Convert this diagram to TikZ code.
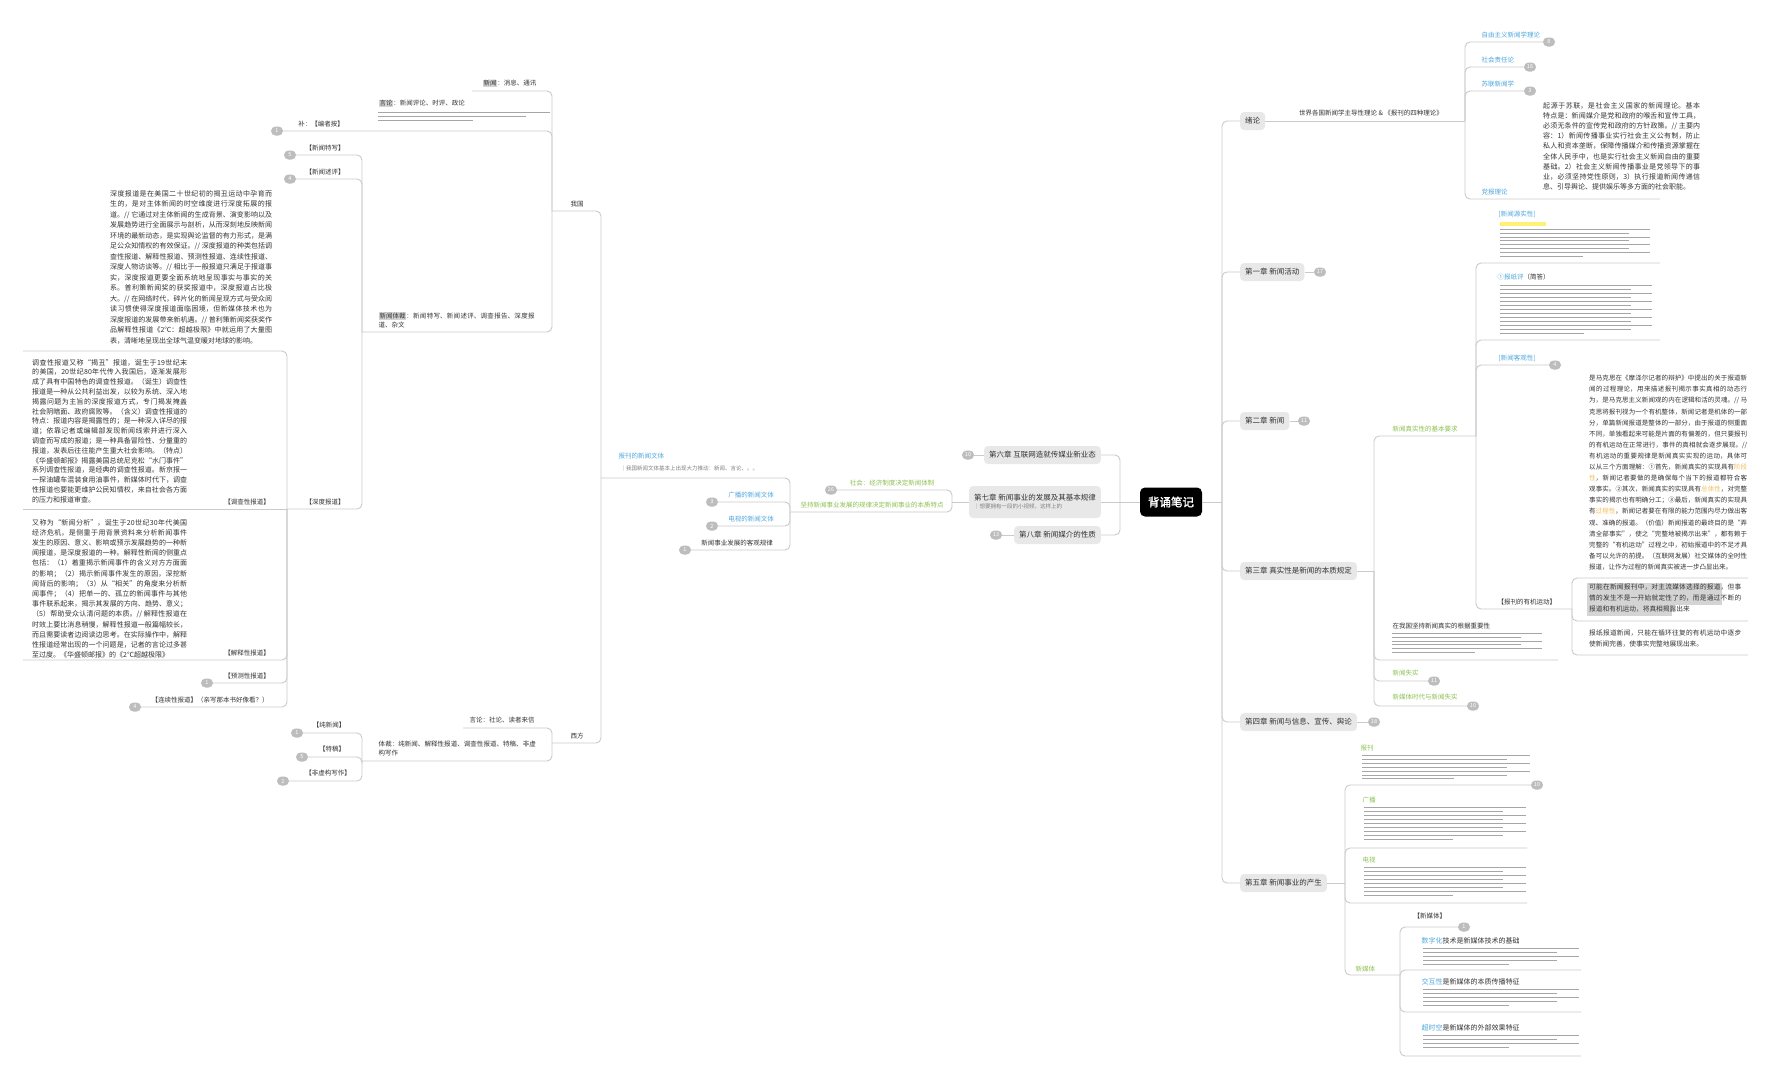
\documentclass[tikz,border=0pt]{standalone}
\usepackage{fontspec}
\setmainfont{Noto Sans CJK SC}[AutoFakeBold=2]
\XeTeXlinebreaklocale "zh"
\XeTeXlinebreakskip = 0pt plus 1pt
\usetikzlibrary{positioning}
\definecolor{ink}{HTML}{333333}
\definecolor{wire}{HTML}{CACACA}
\definecolor{chapfill}{HTML}{E8E8E8}
\definecolor{badgefill}{HTML}{BDBDBD}
\definecolor{leaf}{HTML}{8CC152}
\definecolor{sky}{HTML}{4EA6DC}
\definecolor{hl}{HTML}{D4D4D4}
\definecolor{fauxgray}{HTML}{A6A6A6}
\definecolor{marker}{HTML}{FFF176}
\definecolor{amber}{HTML}{F3BE5C}
\newcommand\hlt[1]{{\setlength{\fboxsep}{0.8pt}\colorbox{hl}{#1}}}
% rows of small grey text that cannot be read at this size
\newcommand\faux[5]{%
  \foreach \k in {1,...,#4}{
    \pgfmathsetmacro\fy{#2+(\k-1)*#5}
    \pgfmathsetmacro\fw{(\k==#4)?0.55*#3:(0.86+0.14*mod(\k,2))*#3}
    \fill[fauxgray] (#1,\fy) rectangle ++(\fw,0.9);
  }}
\tikzset{
  link/.style={draw=wire, line width=0.9pt, rounded corners=5pt},
  root/.style={fill=black, rounded corners=5pt, text=white, font=\fontsize{11.5}{13}\selectfont\bfseries, minimum width=62pt, minimum height=29pt},
  chap/.style={fill=chapfill, rounded corners=4pt, text=ink, font=\fontsize{7.5}{9}\selectfont, inner xsep=5pt, minimum height=18pt},
  badge/.style={fill=badgefill, rounded corners=4.5pt, text=white, font=\fontsize{5.5}{6}\selectfont, minimum width=12pt, minimum height=9pt, inner sep=0.5pt},
  lbl/.style={font=\fontsize{6.5}{8}\selectfont, text=ink, inner sep=0.5pt},
  greenlbl/.style={lbl, text=leaf},
  bluelbl/.style={lbl, text=sky},
  para/.style={font=\fontsize{7}{10.2}\selectfont, text=ink, align=justify, inner sep=0pt},
}
\begin{document}
\begin{tikzpicture}[x=1pt, y=-1pt]
\useasboundingbox (0,0) rectangle (1777,1080);
\fill[white] (0,0) rectangle (1777,1080);

% centre
\node[root] (root) at (1171,502) {背诵笔记};
\coordinate (rt) at (1222,502);
\coordinate (lt) at (1120,502);
\draw[link] (root.east) -- (rt);
\draw[link] (root.west) -- (lt);

% right chapters
\node[chap, anchor=west] (xulun) at (1240,121) {绪论};
\node[chap, anchor=west] (ch1) at (1240,272) {第一章 新闻活动};
\node[badge] (b1) at (1320,272) {17};
\node[chap, anchor=west] (ch2) at (1240,421) {第二章 新闻};
\node[badge] (b2) at (1304,421) {11};
\node[chap, anchor=west] (ch3) at (1240,571) {第三章 真实性是新闻的本质规定};
\node[chap, anchor=west] (ch4) at (1240,722) {第四章 新闻与信息、宣传、舆论};
\node[badge] (b4) at (1374,722) {18};
\node[chap, anchor=west] (ch5) at (1240,883) {第五章 新闻事业的产生};
\foreach \c in {xulun,ch1,ch2,ch3,ch4,ch5}
  \draw[link] (rt) |- (\c.west);
\draw[link] (ch1.east) -- (b1);
\draw[link] (ch2.east) -- (b2);
\draw[link] (ch4.east) -- (b4);

% 绪论
\coordinate (jx) at (1465,121);
\draw[link] (xulun.east) -- (jx);
\node[lbl] (xlt) at (1371,113) {世界各国新闻学主导性理论 \& 《报刊的四种理论》};
\node[badge] (xb1) at (1549,42) {8};
\node[badge] (xb2) at (1530,67) {16};
\node[badge] (xb3) at (1530,91) {3};
\coordinate (x4e) at (1660,199);
\draw[link] (jx) |- (xb1.west);
\draw[link] (jx) |- (xb2.west);
\draw[link] (jx) |- (xb3.west);
\draw[link] (jx) |- (x4e);
\node[bluelbl, anchor=south west] (x1) at (1481,39) {自由主义新闻学理论};
\node[bluelbl, anchor=south west] (x2) at (1481,64) {社会责任论};
\node[bluelbl, anchor=south west] (x3) at (1481,88) {苏联新闻学};
\node[bluelbl, anchor=south west] (x4) at (1481,196) {党报理论};
\node[para, anchor=north west, text width=157pt] (x4t) at (1543,102) {起源于苏联，是社会主义国家的新闻理论。基本特点是：新闻媒介是党和政府的喉舌和宣传工具，必须无条件的宣传党和政府的方针政策。// 主要内容：1）新闻传播事业实行社会主义公有制，防止私人和资本垄断，保障传播媒介和传播资源掌握在全体人民手中，也是实行社会主义新闻自由的重要基础。2）社会主义新闻传播事业是党领导下的事业，必须坚持党性原则，3）执行报道新闻传递信息、引导舆论、提供娱乐等多方面的社会职能。};

% 第三章
\coordinate (j3) at (1374,571);
\coordinate (jA) at (1476,436);
\draw[link] (ch3.east) -- (j3);
\draw[link] (j3) |- (jA);
\node[greenlbl, anchor=south] (ta) at (1425,433) {新闻真实性的基本要求};
\coordinate (a1e) at (1660,263);
\coordinate (a2e) at (1660,340);
\node[badge] (ab3) at (1555,365) {4};
\coordinate (j16) at (1572,609);
\draw[link] (jA) |- (a1e);
\draw[link] (jA) |- (a2e);
\draw[link] (jA) |- (ab3.west);
\draw[link] (jA) |- (j16);
\node[bluelbl, anchor=south west] (a1) at (1498,218) {[新闻源实性]};
\fill[marker] (1500,222) rectangle (1546,226);
\faux{1500}{229}{150}{8}{3.8}
\node[lbl, anchor=west] (a2) at (1497,277) {\textcolor{sky}{①报纸评}（简答）};
\faux{1500}{285}{152}{13}{4}
\node[bluelbl, anchor=south west] (a3) at (1498,362) {[新闻客观性]};
\node[lbl, anchor=south west] (a4) at (1497,606) {【报刊的有机运动】};
\coordinate (p0) at (1748,578);
\coordinate (p1) at (1748,621);
\coordinate (p2) at (1748,655);
\draw[link] (j16) |- (p0);
\draw[link] (j16) |- (p1);
\draw[link] (j16) |- (p2);
\node[para, anchor=north west, text width=158pt, font=\fontsize{6.5}{11.1}\selectfont] (p0t) at (1589,375) {是马克思在《摩泽尔记者的辩护》中提出的关于报道新闻的过程理论，用来描述报刊揭示事实真相的动态行为，是马克思主义新闻观的内在逻辑和活的灵魂。// 马克思将报刊视为一个有机整体，新闻记者是机体的一部分，单篇新闻报道是整体的一部分，由于报道的侧重面不同，单独看起来可能是片面的有偏差的，但只要报刊的有机运动在正常进行，事件的真相就会逐步展现。// 有机运动的重要规律是新闻真实实现的运动，具体可以从三个方面理解：①首先，新闻真实的实现具有\textcolor{amber}{阶段性}，新闻记者要做的是确保每个当下的报道都符合客观事实。②其次，新闻真实的实现具有\textcolor{amber}{总体性}，对完整事实的揭示也有明确分工；③最后，新闻真实的实现具有\textcolor{amber}{过程性}，新闻记者要在有限的能力范围内尽力做出客观、准确的报道。（价值）新闻报道的最终目的是“弄清全部事实”，使之“完整地被揭示出来”，都有赖于完整的“有机运动”过程之中，初始报道中的不足才具备可以允许的前提。（互联网发展）社交媒体的全时性报道，让作为过程的新闻真实被进一步凸显出来。};
\fill[hl] (1587,583) rectangle (1722,605);
\fill[hl] (1587,605) rectangle (1672,616);
\node[para, anchor=north west, text width=152pt, font=\fontsize{6.7}{10.9}\selectfont] (p1t) at (1589,584) {可能在新闻报刊中，对主流媒体选择的报道，但事情的发生不是一开始就定性了的，而是通过不断的报道和有机运动，将真相揭露出来};
\node[para, anchor=north west, text width=152pt, font=\fontsize{6.7}{10.9}\selectfont] (p2t) at (1589,630) {报纸报道新闻，只能在循环往复的有机运动中逐步使新闻完善，使事实完整地展现出来。};
\coordinate (be) at (1558,660);
\node[badge] (cb) at (1434,681) {11};
\node[badge] (db) at (1473,706) {10};
\draw[link] (j3) |- (be);
\draw[link] (j3) |- (cb.west);
\draw[link] (j3) |- (db.west);
\node[lbl, anchor=west] (bt) at (1392,626) {在我国坚持新闻真实的根据重要性};
\faux{1392}{633}{150}{6}{3.8}
\node[greenlbl, anchor=west] (ct) at (1392,673) {新闻失实};
\node[greenlbl, anchor=west] (dt) at (1392,697) {新媒体时代与新闻失实};

% 第五章
\coordinate (j5) at (1345,883);
\draw[link] (ch5.east) -- (j5);
\node[badge] (eb) at (1537,785) {10};
\coordinate (e2) at (1527,848);
\coordinate (e3) at (1527,903);
\coordinate (j6) at (1400,975);
\draw[link] (j5) |- (eb.west);
\draw[link] (j5) |- (e2);
\draw[link] (j5) |- (e3);
\draw[link] (j5) |- (j6);
\node[greenlbl, anchor=west] (e1t) at (1360,748) {报刊};
\faux{1362}{755}{168}{7}{3.9}
\node[greenlbl, anchor=west] (e2t) at (1362,800) {广播};
\faux{1364}{807}{162}{9}{4}
\node[greenlbl, anchor=west] (e3t) at (1362,860) {电视};
\faux{1364}{867}{162}{8}{4}
\node[greenlbl, anchor=west] (e4t) at (1355,969) {新媒体};
\node[badge] (fb) at (1464,927) {1};
\coordinate (f2) at (1581,970);
\coordinate (f3) at (1581,1012);
\coordinate (f4) at (1581,1056);
\draw[link] (j6) |- (fb.west);
\draw[link] (j6) |- (f2);
\draw[link] (j6) |- (f3);
\draw[link] (j6) |- (f4);
\node[lbl, anchor=west] (f1t) at (1413,916) {【新媒体】};
\node[lbl, anchor=west, font=\fontsize{7}{8}\selectfont] (f2t) at (1421,941) {\textcolor{sky}{数字化}技术是新媒体技术的基础};
\faux{1423}{948}{156}{5}{3.9}
\node[lbl, anchor=west, font=\fontsize{7}{8}\selectfont] (f3t) at (1421,982) {\textcolor{sky}{交互性}是新媒体的本质传播特征};
\faux{1423}{989}{156}{5}{4}
\node[lbl, anchor=west, font=\fontsize{7}{8}\selectfont] (f4t) at (1421,1028) {\textcolor{sky}{超时空}是新媒体的外部效果特征};
\faux{1423}{1035}{156}{4}{4}

% left chapters
\node[chap, anchor=east] (ch6) at (1101,455) {第六章 互联网造就传媒业新业态};
\node[badge] (b6) at (968,455) {10};
\node[chap, anchor=east, align=left, minimum height=32pt] (ch7) at (1101,502) {第七章 新闻事业的发展及其基本规律\\[-1pt]{\color{gray}\fontsize{5.5}{6}\selectfont ｜想要拥有一段的小视频，这样上的}};
\node[chap, anchor=east] (ch8) at (1101,535) {第八章 新闻媒介的性质};
\node[badge] (b8) at (996,535) {13};
\draw[link] (lt) |- (ch6.east);
\draw[link] (lt) -- (ch7.east);
\draw[link] (lt) |- (ch8.east);
\draw[link] (ch6.west) -- (b6);
\draw[link] (ch8.west) -- (b8);

% 第七章
\coordinate (j7) at (952,502);
\coordinate (j8) at (790,512);
\coordinate (j9) at (601,478);
\draw[link] (ch7.west) -- (j7);
\node[badge] (g1b) at (831,490) {26};
\draw[link] (j7) |- (g1b.east);
\draw[link] (j7) |- (j8);
\node[greenlbl, anchor=south] (g1) at (892,487) {社会：经济制度决定新闻体制};
\node[greenlbl, anchor=south] (g2) at (872,509) {坚持新闻事业发展的规律决定新闻事业的本质特点};
\node[badge] (h2b) at (712,502) {3};
\node[badge] (h3b) at (712,526) {2};
\node[badge] (h4b) at (685,550) {1};
\draw[link] (j8) |- (j9);
\draw[link] (j8) |- (h2b.east);
\draw[link] (j8) |- (h3b.east);
\draw[link] (j8) |- (h4b.east);
\node[bluelbl, anchor=south west] (h1) at (618,460) {报刊的新闻文体};
\node[lbl, anchor=south west, text=gray, font=\fontsize{5.5}{6}\selectfont] (h1s) at (620,472) {｜我国新闻文体基本上出现大力推动：新闻、言论、。。};
\node[bluelbl, anchor=south] (h2) at (751,499) {广播的新闻文体};
\node[bluelbl, anchor=south] (h3) at (751,523) {电视的新闻文体};
\node[lbl, anchor=south] (h4) at (737,547) {新闻事业发展的客观规律};

% 我国 / 西方
\coordinate (j10) at (552,211);
\coordinate (j14) at (552,743);
\draw[link] (j9) |- (j10);
\draw[link] (j9) |- (j14);
\node[lbl, anchor=south] (cn) at (577,208) {我国};
\node[lbl, anchor=south] (west) at (577,740) {西方};

\coordinate (n1s) at (472,91);
\node[badge] (n2b) at (277,131) {1};
\coordinate (j12) at (362,332);
\draw[link] (j10) |- (n1s);
\draw[link] (j10) |- (n2b.east);
\draw[link] (j10) |- (j12);
\node[lbl, anchor=south west] (n1) at (482,88) {\hlt{新闻}：消息、通讯};
\node[lbl, anchor=south west] (n2) at (378,108) {\hlt{言论}：新闻评论、时评、政论};
\faux{378}{112}{172}{3}{4.2}
\node[lbl, anchor=south] (n2c) at (321,128) {补：【编者按】};
\node[lbl, anchor=south west, text width=160pt, align=left, font=\fontsize{6.5}{9.5}\selectfont] (n3) at (378,329) {\hlt{新闻体裁}：新闻特写、新闻述评、调查报告、深度报道、杂文};

\node[badge] (k1b) at (290,155) {5};
\node[badge] (k2b) at (290,179) {4};
\coordinate (j13) at (287,509);
\draw[link] (j12) |- (k1b.east);
\draw[link] (j12) |- (k2b.east);
\draw[link] (j12) |- (j13);
\node[lbl, anchor=south] (k1) at (325,152) {【新闻特写】};
\node[lbl, anchor=south] (k2) at (325,176) {【新闻述评】};
\node[lbl, anchor=south] (k3) at (325,506) {【深度报道】};

% 深度报道
\coordinate (d0) at (23,351);
\coordinate (d1) at (23,509);
\coordinate (d2) at (23,660);
\node[badge] (d3b) at (207,683) {1};
\node[badge] (d4b) at (135,707) {4};
\draw[link] (j13) |- (d0);
\draw[link] (j13) -- (d1);
\draw[link] (j13) |- (d2);
\draw[link] (j13) |- (d3b.east);
\draw[link] (j13) |- (d4b.east);
\node[para, anchor=north west, text width=162pt, font=\fontsize{7}{10.5}\selectfont] (d0t) at (110,190) {深度报道是在美国二十世纪初的揭丑运动中孕育而生的，是对主体新闻的时空维度进行深度拓展的报道。// 它通过对主体新闻的生成背景、演变影响以及发展趋势进行全面展示与剖析，从而深刻地反映新闻环境的最新动态，是实现舆论监督的有力形式，是满足公众知情权的有效保证。// 深度报道的种类包括调查性报道、解释性报道、预测性报道、连续性报道、深度人物访谈等。// 相比于一般报道只满足于报道事实，深度报道更要全面系统地呈现事实与事实的关系。普利策新闻奖的获奖报道中，深度报道占比极大。// 在网络时代，碎片化的新闻呈现方式与受众阅读习惯使得深度报道面临困境，但新媒体技术也为深度报道的发展带来新机遇。// 普利策新闻奖获奖作品解释性报道《2℃：超越极限》中就运用了大量图表，清晰地呈现出全球气温变暖对地球的影响。};
\node[para, anchor=north west, text width=155pt, font=\fontsize{7}{9.8}\selectfont] (d1t) at (32,359) {调查性报道又称“揭丑”报道，诞生于19世纪末的美国，20世纪80年代传入我国后，逐渐发展形成了具有中国特色的调查性报道。（诞生）调查性报道是一种从公共利益出发，以较为系统、深入地揭露问题为主旨的深度报道方式，专门揭发掩盖社会阴暗面、政府腐败等。（含义）调查性报道的特点：报道内容是揭露性的；是一种深入详尽的报道；依靠记者或编辑部发现新闻线索并进行深入调查而写成的报道；是一种具备冒险性、分量重的报道，发表后往往能产生重大社会影响。（特点）《华盛顿邮报》揭露美国总统尼克松“水门事件”系列调查性报道，是经典的调查性报道。新京报一一探油罐车混装食用油事件，新媒体时代下，调查性报道也要能更维护公民知情权，来自社会各方面的压力和报道审查。};
\node[lbl, anchor=south] (d1l) at (247,506) {【调查性报道】};
\node[para, anchor=north west, text width=155pt] (d2t) at (32,519) {又称为“新闻分析”，诞生于20世纪30年代美国经济危机，是侧重于用背景资料来分析新闻事件发生的原因、意义、影响或预示发展趋势的一种新闻报道，是深度报道的一种。解释性新闻的侧重点包括：（1）着重揭示新闻事件的含义对方方面面的影响；（2）揭示新闻事件发生的原因，深挖新闻背后的影响；（3）从“相关”的角度来分析新闻事件；（4）把单一的、孤立的新闻事件与其他事件联系起来，揭示其发展的方向、趋势、意义；（5）帮助受众认清问题的本质。// 解释性报道在时效上要比消息稍慢，解释性报道一般篇幅较长，而且需要读者边阅读边思考。在实际操作中，解释性报道经常出现的一个问题是，记者的言论过多甚至过度。《华盛顿邮报》的《2℃超越极限》};
\node[lbl, anchor=south] (d2l) at (247,657) {【解释性报道】};
\node[lbl, anchor=south] (d3l) at (247,680) {【预测性报道】};
\node[lbl, anchor=south] (d4l) at (210,704) {【连续性报道】（亲写那本书好像看？）};

% 西方
\coordinate (w1) at (463,728);
\coordinate (j15) at (362,761);
\draw[link] (j14) |- (w1);
\draw[link] (j14) |- (j15);
\node[lbl, anchor=south] (w1t) at (502,724) {言论：社论、读者来信};
\node[lbl, anchor=south west, text width=158pt, align=left, font=\fontsize{6.5}{9.5}\selectfont] (w2t) at (378,757) {体裁：纯新闻、解释性报道、调查性报道、特稿、非虚构写作};
\node[badge] (wb1) at (297,733) {1};
\node[badge] (wb2) at (302,757) {5};
\node[badge] (wb3) at (283,781) {2};
\draw[link] (j15) |- (wb1.east);
\draw[link] (j15) |- (wb2.east);
\draw[link] (j15) |- (wb3.east);
\node[lbl, anchor=south] (wt1) at (329,729) {【纯新闻】};
\node[lbl, anchor=south] (wt2) at (332,753) {【特稿】};
\node[lbl, anchor=south] (wt3) at (328,777) {【非虚构写作】};
\end{tikzpicture}
\end{document}
